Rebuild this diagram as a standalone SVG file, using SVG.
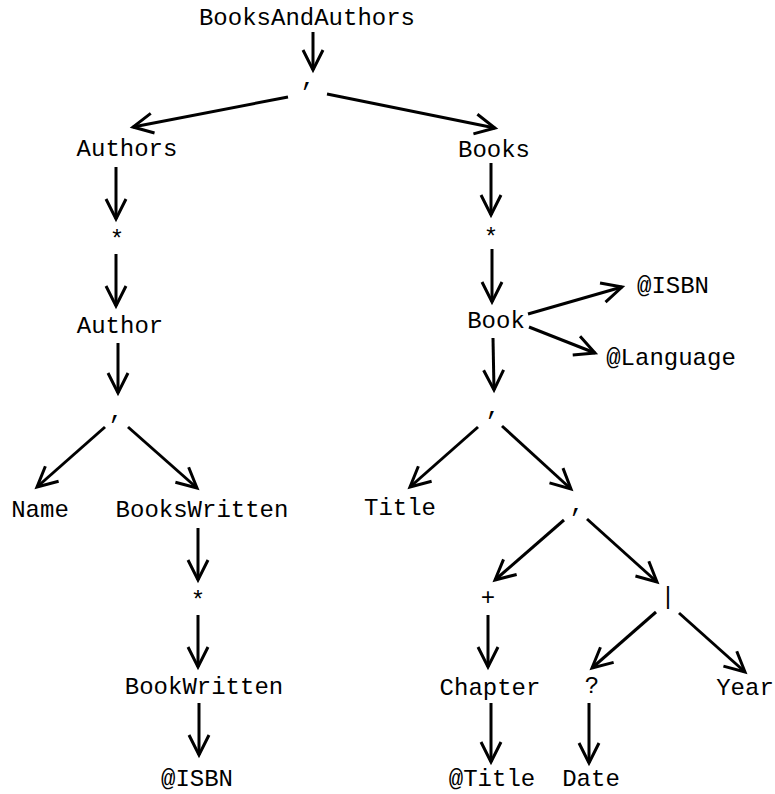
<svg xmlns="http://www.w3.org/2000/svg" width="775" height="794" viewBox="0 0 775 794">
  <style>
    text { font-family: "Liberation Mono", "Courier New", monospace; font-size: 24px; fill: #000; text-anchor: middle; }
    .edge { stroke: #000; stroke-width: 3; fill: none; marker-end: url(#arrow); }
  </style>
  <defs>
    <marker id="arrow" markerUnits="userSpaceOnUse" markerWidth="30" markerHeight="30" viewBox="-25 -15 30 30" refX="0" refY="0" orient="auto" overflow="visible">
      <path d="M-20,-10 L0,0 L-20,10" fill="none" stroke="#000" stroke-width="3"/>
    </marker>
  </defs>
  <rect width="775" height="794" fill="#fff"/>

  <g id="connectors">
    <line class="edge" x1="313" y1="32" x2="313" y2="70"/>
    <line class="edge" x1="288" y1="97" x2="133" y2="127"/>
    <line class="edge" x1="327" y1="94" x2="495" y2="128"/>
    <line class="edge" x1="116" y1="167" x2="116" y2="219"/>
    <line class="edge" x1="116" y1="254" x2="116" y2="306"/>
    <line class="edge" x1="118" y1="343" x2="118" y2="393"/>
    <line class="edge" x1="105" y1="427" x2="37" y2="487"/>
    <line class="edge" x1="128" y1="427" x2="197" y2="488"/>
    <line class="edge" x1="198" y1="528" x2="198" y2="580"/>
    <line class="edge" x1="198" y1="615" x2="198" y2="667"/>
    <line class="edge" x1="199" y1="703" x2="199" y2="755"/>
    <line class="edge" x1="491" y1="163" x2="491" y2="215"/>
    <line class="edge" x1="492" y1="249" x2="492" y2="302"/>
    <line class="edge" x1="528" y1="314" x2="622" y2="287"/>
    <line class="edge" x1="529" y1="327" x2="595" y2="353"/>
    <line class="edge" x1="493" y1="338" x2="494" y2="390"/>
    <line class="edge" x1="478" y1="427" x2="410" y2="487"/>
    <line class="edge" x1="502" y1="426" x2="571" y2="489"/>
    <line class="edge" x1="564" y1="520" x2="495" y2="580"/>
    <line class="edge" x1="587" y1="519" x2="657" y2="582"/>
    <line class="edge" x1="488" y1="615" x2="488" y2="667"/>
    <line class="edge" x1="491" y1="703" x2="491" y2="762"/>
    <line class="edge" x1="656" y1="612" x2="592" y2="668"/>
    <line class="edge" x1="679" y1="613" x2="745" y2="672"/>
    <line class="edge" x1="589" y1="703" x2="589" y2="763"/>
  </g>

  <g id="n-booksandauthors"><text x="307" y="25">BooksAndAuthors</text></g>
  <g id="n-seq-root"><text x="308" y="86">,</text></g>
  <g id="n-authors"><text x="127" y="156">Authors</text></g>
  <g id="n-authors-star"><text x="117" y="247">*</text></g>
  <g id="n-author"><text x="120" y="333">Author</text></g>
  <g id="n-author-seq"><text x="116" y="419">,</text></g>
  <g id="n-name"><text x="40" y="517">Name</text></g>
  <g id="n-bookswritten"><text x="202" y="517">BooksWritten</text></g>
  <g id="n-bookswritten-star"><text x="198" y="608">*</text></g>
  <g id="n-bookwritten"><text x="204" y="694">BookWritten</text></g>
  <g id="n-bookwritten-isbn"><text x="197" y="786">@ISBN</text></g>

  <g id="n-books"><text x="494" y="157">Books</text></g>
  <g id="n-books-star"><text x="491" y="245">*</text></g>
  <g id="n-book"><text x="496" y="328">Book</text></g>
  <g id="n-book-isbn"><text x="673" y="293">@ISBN</text></g>
  <g id="n-book-language"><text x="671" y="365">@Language</text></g>
  <g id="n-book-seq"><text x="493" y="415">,</text></g>
  <g id="n-title"><text x="400" y="515">Title</text></g>
  <g id="n-inner-seq"><text x="577" y="512">,</text></g>
  <g id="n-plus"><text x="488" y="605">+</text></g>
  <g id="n-choice"><text x="668" y="604">|</text></g>
  <g id="n-chapter"><text x="490" y="695">Chapter</text></g>
  <g id="n-chapter-title"><text x="492" y="786">@Title</text></g>
  <g id="n-optional"><text x="592" y="693">?</text></g>
  <g id="n-year"><text x="745" y="695">Year</text></g>
  <g id="n-date"><text x="591" y="786">Date</text></g>
</svg>
